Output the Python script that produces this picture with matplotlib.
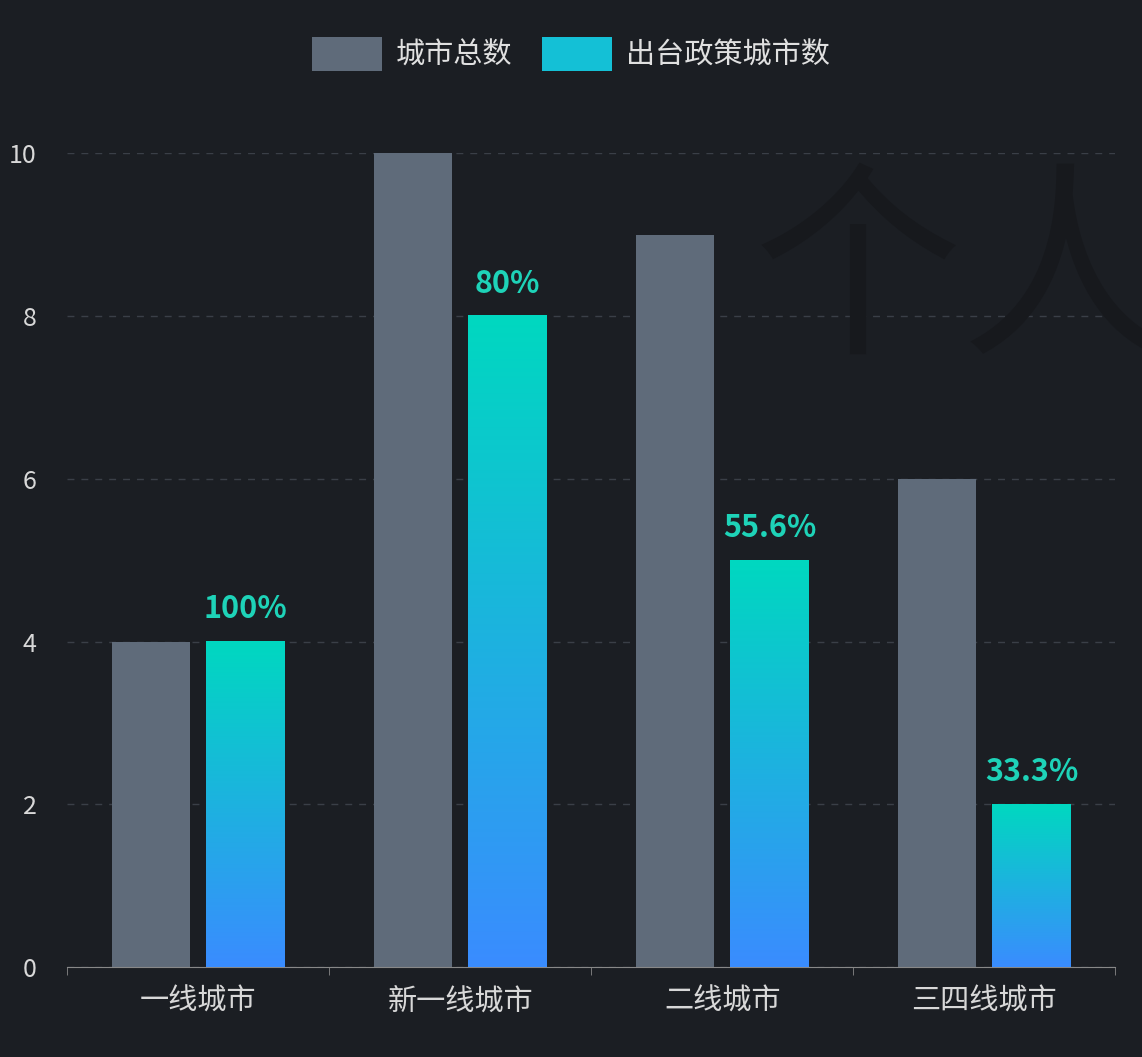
import numpy as np
import matplotlib.pyplot as plt
from matplotlib.colors import LinearSegmentedColormap
from matplotlib.patches import Patch

plt.rcParams['font.family'] = ['Noto Sans CJK SC', 'DejaVu Sans']

categories = ["一线城市", "新一线城市", "二线城市", "三四线城市"]
total_cities = [4, 10, 9, 6]
policy_cities = [4, 8, 5, 2]
pct_labels = ["100%", "80%", "55.6%", "33.3%"]

bg = "#1b1e23"
gray = "#5f6b7a"
cmap = LinearSegmentedColormap.from_list("g", ["#3a8cff", "#00d8c0"])

fig = plt.figure(figsize=(11.42, 10.57), dpi=100, facecolor=bg)
ax = fig.add_axes([0.0587, 0.085, 0.918, 0.77], facecolor=bg)

x = np.arange(len(categories))
w = 0.30
off = 0.18
ax.bar(x - off, total_cities, w, color=gray, zorder=2)
bars = ax.bar(x + off, policy_cities, w, color="none", zorder=2)

grad = np.linspace(0, 1, 256).reshape(-1, 1)
for b, lab in zip(bars, pct_labels):
    x0, h = b.get_x(), b.get_height()
    ax.imshow(grad, cmap=cmap, origin="lower", aspect="auto",
              extent=[x0, x0 + b.get_width(), 0, h], zorder=3)
    ax.text(x0 + b.get_width() / 2, h + 0.2, lab, ha="center", va="bottom",
            color="#1ed3b8", fontsize=22, fontweight="bold", zorder=4)

ax.set_xlim(-0.5, len(categories) - 0.5)
ax.set_ylim(0, 10)
ax.set_yticks([0, 2, 4, 6, 8, 10])
ax.yaxis.grid(True, color="#3a3f47", linestyle=(0, (5, 5)), linewidth=1, zorder=0)
ax.set_axisbelow(True)
ax.set_xticks(x)
ax.set_xticklabels(categories)
ax.set_xticks(np.arange(len(categories) + 1) - 0.5, minor=True)
ax.tick_params(axis="x", which="major", length=0, labelsize=21, colors="#d8d8d8", pad=14)
ax.tick_params(axis="x", which="minor", length=6, color="#888888")
ax.tick_params(axis="y", length=0, labelsize=18, colors="#d8d8d8", pad=22)
for s in ["top", "right", "left"]:
    ax.spines[s].set_visible(False)
ax.spines["bottom"].set_color("#888888")

# faint watermark, partly off the right edge as in the original
fig.text(0.66, 0.68, "个人", color="#17191d", fontsize=150, zorder=0)

handles = [Patch(facecolor=gray, label="城市总数"),
           Patch(facecolor="#14c0d6", label="出台政策城市数")]
fig.legend(handles=handles, loc="upper center", bbox_to_anchor=(0.5, 0.99), ncol=2,
           frameon=False, fontsize=21, labelcolor="#e0e0e0", handlelength=2.4,
           handleheight=1.4, columnspacing=1.0, handletextpad=0.5)

fig.savefig("out.png", dpi=100, facecolor=bg)
